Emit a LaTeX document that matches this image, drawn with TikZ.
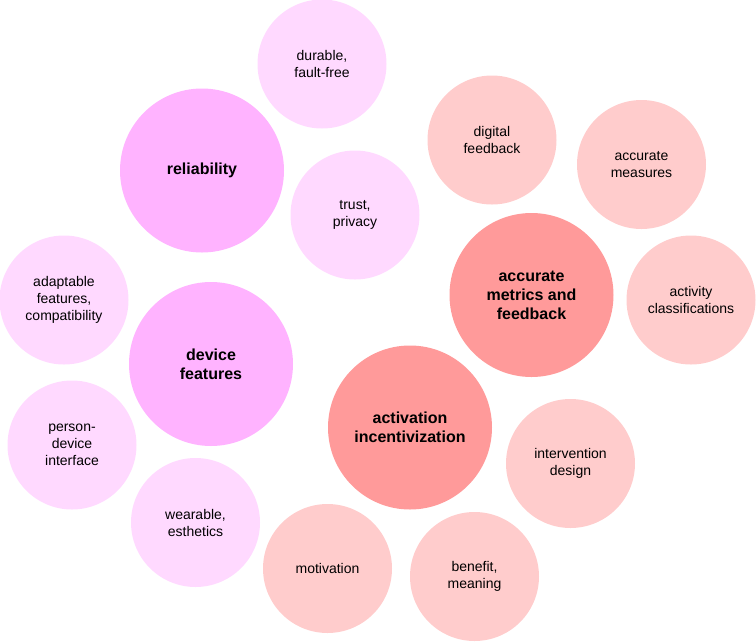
\documentclass[tikz,border=0pt]{standalone}
\usepackage{fontspec}
\setmainfont{Liberation Sans}
\definecolor{bigpink}{HTML}{FFB3FF}
\definecolor{smallpink}{HTML}{FFD9FF}
\definecolor{bigred}{HTML}{FF9A9A}
\definecolor{smallred}{HTML}{FFCCCC}
\tikzset{
  bub/.style={circle, draw=none, inner sep=0pt, align=center, text=black},
  small/.style={bub, minimum size=129pt, font=\fontsize{14pt}{17pt}\selectfont},
  big/.style={bub, minimum size=164pt, font=\fontsize{16pt}{19pt}\selectfont\bfseries},
}
\begin{document}
\begin{tikzpicture}[x=1pt,y=-1pt]
\useasboundingbox (0,0) rectangle (756,641);
% pink cluster
\node[small, fill=smallpink] (durable) at (322,64) {durable,\\fault-free};
\node[big, fill=bigpink] (reliab) at (202,170.5) {reliability};
\node[small, fill=smallpink] (trust) at (355,215) {trust,\\privacy};
\node[small, fill=smallpink] (adapt) at (64,300) {adaptable\\features,\\compatibility};
\node[big, fill=bigpink] (device) at (211,364) {device\\features};
\node[small, fill=smallpink] (person) at (72,445) {person-\\device\\interface};
\node[small, fill=smallpink] (wear) at (195.5,522.5) {wearable,\\esthetics};
% red cluster
\node[small, fill=smallred] (digital) at (492,140) {digital\\feedback};
\node[small, fill=smallred] (measures) at (641.5,164.5) {accurate\\measures};
\node[big, fill=bigred] (metrics) at (531.5,295) {accurate\\metrics and\\feedback};
\node[small, fill=smallred] (classif) at (691,300) {activity\\classifications};
\node[big, fill=bigred] (activ) at (410,427.5) {activation\\incentivization};
\node[small, fill=smallred] (interv) at (570.5,463.5) {intervention\\design};
\node[small, fill=smallred] (motiv) at (327.5,568.5) {motivation};
\node[small, fill=smallred] (benefit) at (474.5,576.5) {benefit,\\meaning};
\end{tikzpicture}
\end{document}
